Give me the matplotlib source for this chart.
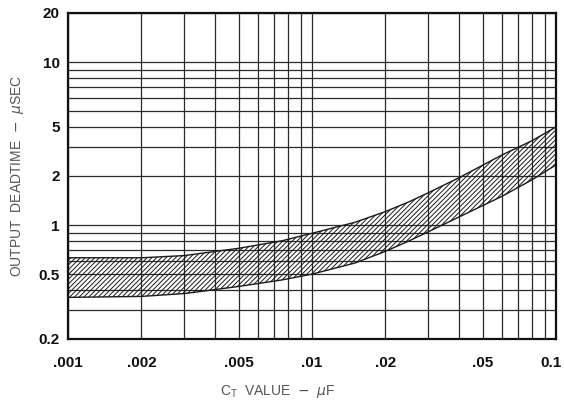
import matplotlib
matplotlib.use("Agg")
import matplotlib.pyplot as plt
from matplotlib.transforms import offset_copy

# values (log-log)
ct_uf = [0.001, 0.002, 0.003, 0.005, 0.0075, 0.01, 0.015, 0.02, 0.025,
         0.03, 0.04, 0.06, 0.08, 0.1]
deadtime_max = [0.63, 0.63, 0.65, 0.72, 0.80, 0.89, 1.04, 1.21, 1.39,
                1.58, 1.95, 2.69, 3.30, 4.0]
deadtime_min = [0.36, 0.365, 0.38, 0.42, 0.46, 0.50, 0.585, 0.69, 0.80,
                0.91, 1.12, 1.50, 1.90, 2.34]

x_ticks = [0.001, 0.002, 0.005, 0.01, 0.02, 0.05, 0.1]
x_labels = [".001", ".002", ".005", ".01", ".02", ".05", "0.1"]
# the reference prints "5" on the 4 grid line; keep it where it sits
y_ticks = [0.2, 0.5, 1, 2, 4, 10, 20]
y_labels = ["0.2", "0.5", "1", "2", "5", "10", "20"]

plt.rcParams["font.family"] = ["Liberation Sans", "DejaVu Sans"]
plt.rcParams["hatch.linewidth"] = 0.7

fig = plt.figure(figsize=(5.64, 4.03), dpi=100)
ax = fig.add_axes([68 / 564, 1 - 339 / 403, 488 / 564, 326 / 403])

ax.set_xscale("log")
ax.set_yscale("log")
ax.set_xlim(0.001, 0.1)
ax.set_ylim(0.2, 20)

# full decade grid
grid_kw = dict(color="#2a2a2a", linewidth=0.9, zorder=1)
for dec in (0.001, 0.01):
    for m in range(1, 10):
        ax.axvline(dec * m, **grid_kw)
for dec in (0.1, 1, 10):
    for m in range(1, 10):
        v = dec * m
        if 0.2 <= v <= 20:
            ax.axhline(v, **grid_kw)

ax.fill_between(ct_uf, deadtime_min, deadtime_max, facecolor="none",
                edgecolor="#1a1a1a", hatch="///////", linewidth=0, zorder=2)
ax.plot(ct_uf, deadtime_max, color="#1a1a1a", linewidth=1.0, zorder=3)
ax.plot(ct_uf, deadtime_min, color="#1a1a1a", linewidth=1.0, zorder=3)

ax.set_xticks(x_ticks, x_labels)
ax.set_yticks(y_ticks, y_labels)
ax.minorticks_off()
ax.tick_params(length=0, labelsize=11, colors="#111")
ax.tick_params(axis="x", pad=12)
ax.tick_params(axis="y", pad=6)
for lab in ax.get_xticklabels() + ax.get_yticklabels():
    lab.set_fontweight("bold")
# last x label sits against the right edge
last = ax.get_xticklabels()[-1]
last.set_transform(offset_copy(last.get_transform(), fig=fig, x=-5, units="dots"))

for s in ax.spines.values():
    s.set_linewidth(1.6)
    s.set_color("#111")
    s.set_zorder(4)

fig.text(278 / 564, 1 - 392 / 403, r"C$_{\mathregular{T}}$  VALUE  $-$  $\mu$F",
         ha="center", va="center", fontsize=10, color="#555")
fig.text(18 / 564, 1 - 176 / 403, r"OUTPUT  DEADTIME  $-$  $\mu$SEC",
         ha="center", va="center", rotation=90, fontsize=10, color="#555")

fig.savefig("out.png", dpi=100)
